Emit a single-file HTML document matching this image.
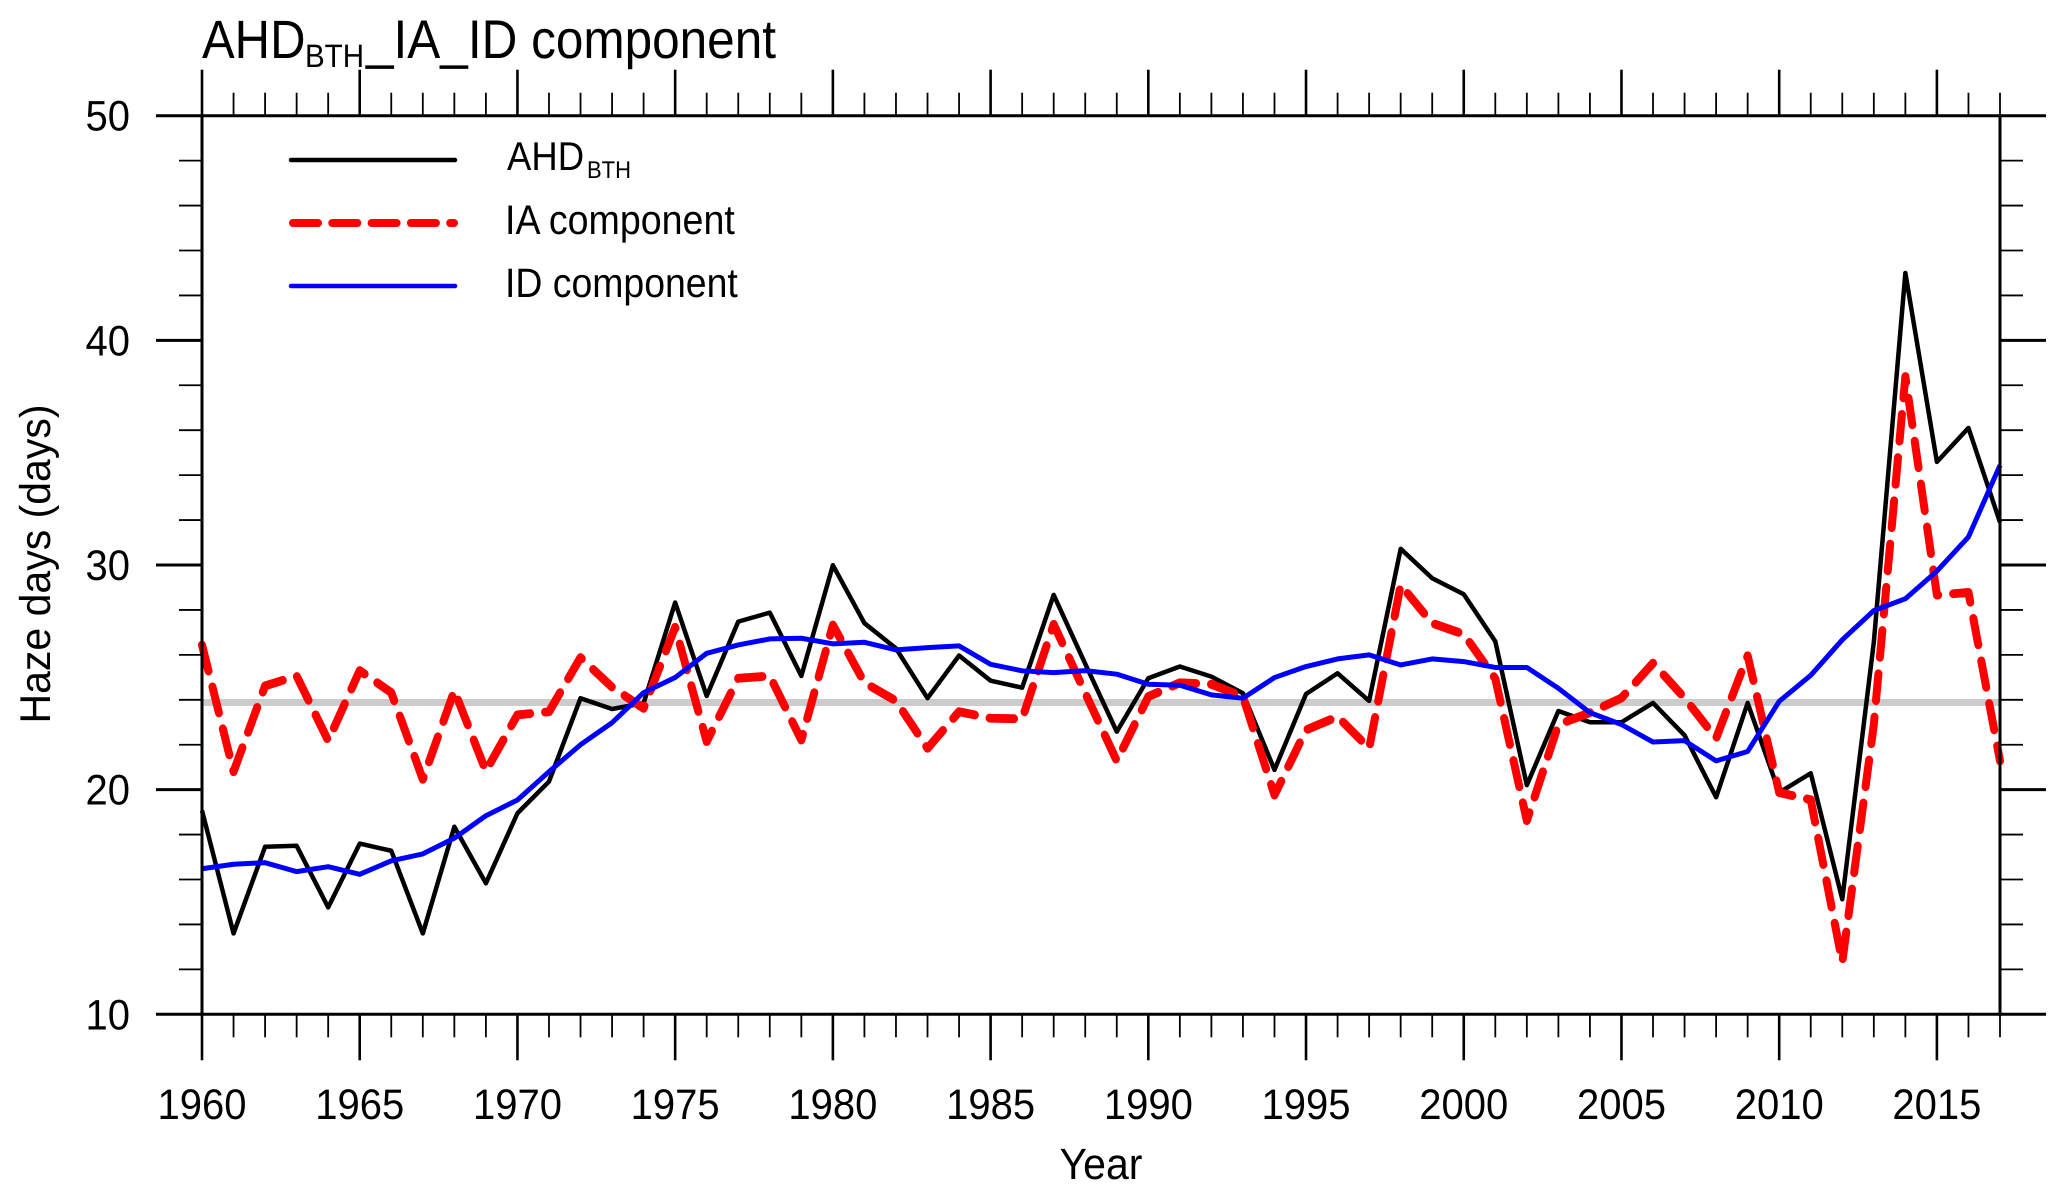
<!DOCTYPE html>
<html lang="en">
<head>
<meta charset="utf-8">
<title>AHD BTH IA ID component</title>
<style>
  html, body { margin: 0; padding: 0; background: #fff; }
  svg { display: block; }
  text { font-family: "Liberation Sans", Arial, sans-serif; fill: #000; text-rendering: geometricPrecision; }
</style>
</head>
<body>
<svg id="chart" xmlns="http://www.w3.org/2000/svg" width="2067" height="1201" viewBox="0 0 2067 1201">
  <rect x="0" y="0" width="2067" height="1201" fill="#fff"/>
  <g>
    <text transform="translate(202 58) scale(1 1.1)" font-size="49">AHD</text>
    <text transform="translate(305 67) scale(1 1.1)" font-size="29.5">BTH</text>
    <text transform="translate(366 58) scale(1 1.1)" font-size="49.5">_IA_ID component</text>
  </g>
  <g id="marks"></g>
  <g id="axes"></g>
  <g>
    <g>
      <line x1="291" x2="455" y1="160" y2="160" stroke="#000" stroke-width="4.5" stroke-linecap="round"/>
      <text transform="translate(507 170) scale(1 1.1)" font-size="36.5">AHD</text>
      <text transform="translate(587 178) scale(1 1.1)" font-size="22">BTH</text>
    </g>
    <g>
      <line x1="293" x2="454" y1="223" y2="223" stroke="#f00" stroke-width="8" stroke-linecap="round" stroke-dasharray="25 14.3"/>
      <text transform="translate(505 234) scale(1 1.1)" font-size="37.6">IA component</text>
    </g>
    <g>
      <line x1="291" x2="455" y1="286" y2="286" stroke="#00f" stroke-width="4.5" stroke-linecap="round"/>
      <text transform="translate(505 297) scale(1 1.1)" font-size="37.4">ID component</text>
    </g>
  </g>
  <text transform="translate(50 564) rotate(-90) scale(1 1.05)" text-anchor="middle" font-size="41">Haze days (days)</text>
  <text transform="translate(1101 1179) scale(1 1.07)" text-anchor="middle" font-size="41">Year</text>
</svg>
<script>
const firstYear = 1960;
const ahdValues = [19.07,13.6,17.46,17.5,14.76,17.6,17.28,13.6,18.35,15.83,18.95,20.36,24.07,23.59,23.85,28.33,24.17,27.48,27.88,25.06,29.99,27.41,26.29,24.07,25.97,24.85,24.54,28.67,25.6,22.58,24.96,25.48,25.03,24.29,20.88,24.26,25.18,23.95,30.72,29.41,28.7,26.6,20.2,23.5,23.0,23.0,23.86,22.42,19.66,23.86,19.87,20.73,15.12,26.56,43.0,34.59,36.1,31.9];
const iaValues = [26.44,20.8,24.62,25.06,22.18,25.3,24.32,20.46,24.41,20.83,23.33,23.47,25.88,24.56,23.62,27.23,22.14,24.96,25.06,22.21,27.33,24.76,23.95,21.84,23.47,23.18,23.15,27.36,24.3,21.28,24.14,24.76,24.69,24.14,19.76,22.66,23.25,21.84,29.11,27.41,26.92,24.94,18.62,22.9,23.43,24.08,25.63,24.08,22.29,25.96,19.87,19.55,12.32,22.9,38.39,28.66,28.78,21.28];
const idValues = [16.48,16.68,16.75,16.35,16.57,16.23,16.83,17.14,17.84,18.84,19.54,20.8,22.0,22.98,24.32,24.99,26.07,26.44,26.71,26.74,26.49,26.56,26.22,26.32,26.4,25.58,25.29,25.21,25.3,25.14,24.69,24.65,24.22,24.07,24.99,25.48,25.82,26.0,25.55,25.82,25.7,25.44,25.44,24.51,23.43,22.9,22.12,22.18,21.28,21.7,23.93,25.09,26.67,27.97,28.5,29.73,31.25,34.44];
const meanValue = 23.88;
const yearTickLabels = [1960,1965,1970,1975,1980,1985,1990,1995,2000,2005,2010,2015];
const valueTickLabels = [10,20,30,40,50];
const yearMin = 1960, yearMax = 2017, valueMin = 10, valueMax = 50, valueMinorStep = 2;

const plotLeft = 202, plotRight = 2000, plotTop = 115.7, plotBottom = 1014.3;
const stretchY = 1.1;
const xScale = function (year) { return plotLeft + (year - yearMin) * (plotRight - plotLeft) / (yearMax - yearMin); };
const yScale = function (value) { return plotBottom - (value - valueMin) * (plotBottom - plotTop) / (valueMax - valueMin); };

const SVGNS = 'http://www.w3.org/2000/svg';
const marks = document.getElementById('marks');
const axes = document.getElementById('axes');

function drawLine(parent, x1, y1, x2, y2, width) {
  const el = document.createElementNS(SVGNS, 'line');
  el.setAttribute('x1', x1);
  el.setAttribute('y1', y1);
  el.setAttribute('x2', x2);
  el.setAttribute('y2', y2);
  el.setAttribute('stroke', '#000');
  el.setAttribute('stroke-width', width);
  parent.appendChild(el);
  return el;
}

function seriesPoints(values, yDivisor) {
  return values.map(function (v, i) { return xScale(firstYear + i).toFixed(2) + ',' + (yScale(v) / yDivisor).toFixed(2); }).join(' ');
}

function drawSeries(values, color, width, dash) {
  const el = document.createElementNS(SVGNS, 'polyline');
  el.setAttribute('fill', 'none');
  el.setAttribute('stroke', color);
  el.setAttribute('stroke-width', width);
  el.setAttribute('stroke-linejoin', 'round');
  if (dash) {
    el.setAttribute('points', seriesPoints(values, stretchY));
    el.setAttribute('transform', 'scale(1 ' + stretchY + ')');
    el.setAttribute('stroke-dasharray', dash);
    el.setAttribute('stroke-linecap', 'round');
  } else {
    el.setAttribute('points', seriesPoints(values, 1));
  }
  marks.appendChild(el);
  return el;
}

const meanLine = drawLine(marks, xScale(yearMin), yScale(meanValue), xScale(yearMax), yScale(meanValue), 7);
meanLine.setAttribute('stroke', '#cccccc');



const ahdLine = drawSeries(ahdValues, '#000', 4.5, null);



const iaLine = drawSeries(iaValues, '#f00', 8, '24.5 15');



const idLine = drawSeries(idValues, '#00f', 5, null);



/* x ticks (bottom and top), every year */
for (let year = yearMin; year <= yearMax; year++) {
  const major = yearTickLabels.indexOf(year) >= 0;
  const x = xScale(year);
  const w = major ? 2.6 : 1.8;
  const tickLen = major ? 46 : 23;
  const bottomTick = drawLine(axes, x, plotBottom, x, plotBottom + tickLen, w);
  
  
  const topTick = drawLine(axes, x, plotTop, x, plotTop - tickLen, w);
  
  
}

/* y ticks (left and right) */
for (let value = valueMin; value <= valueMax; value += valueMinorStep) {
  const major = valueTickLabels.indexOf(value) >= 0;
  const y = yScale(value);
  const w = major ? 3 : 1.8;
  const len = major ? 46 : 23;
  const leftTick = drawLine(axes, plotLeft - len, y, plotLeft, y, w);
  
  
  const rightTick = drawLine(axes, plotRight, y, plotRight + len, y, w);
  
  
}

/* plot border */
const borderLeft = drawLine(axes, plotLeft, plotTop - 1.5, plotLeft, plotBottom + 1.5, 3);


const borderRight = drawLine(axes, plotRight, plotTop - 1.5, plotRight, plotBottom + 1.5, 3);


const borderTop = drawLine(axes, plotLeft, plotTop, plotRight, plotTop, 3);


const borderBottom = drawLine(axes, plotLeft, plotBottom, plotRight, plotBottom, 3);



/* tick labels */
yearTickLabels.forEach(function (year) {
  const t = document.createElementNS(SVGNS, 'text');
  t.setAttribute('transform', 'translate(' + xScale(year) + ' 1119) scale(1 1.07)');
  t.setAttribute('text-anchor', 'middle');
  t.setAttribute('font-size', '40');
  t.textContent = year;
  
  
  axes.appendChild(t);
});
valueTickLabels.forEach(function (value) {
  const t = document.createElementNS(SVGNS, 'text');
  t.setAttribute('transform', 'translate(130 ' + (yScale(value) + 15) + ') scale(1 1.07)');
  t.setAttribute('text-anchor', 'end');
  t.setAttribute('font-size', '40');
  t.textContent = value;
  
  
  axes.appendChild(t);
});
</script>
</body>
</html>
